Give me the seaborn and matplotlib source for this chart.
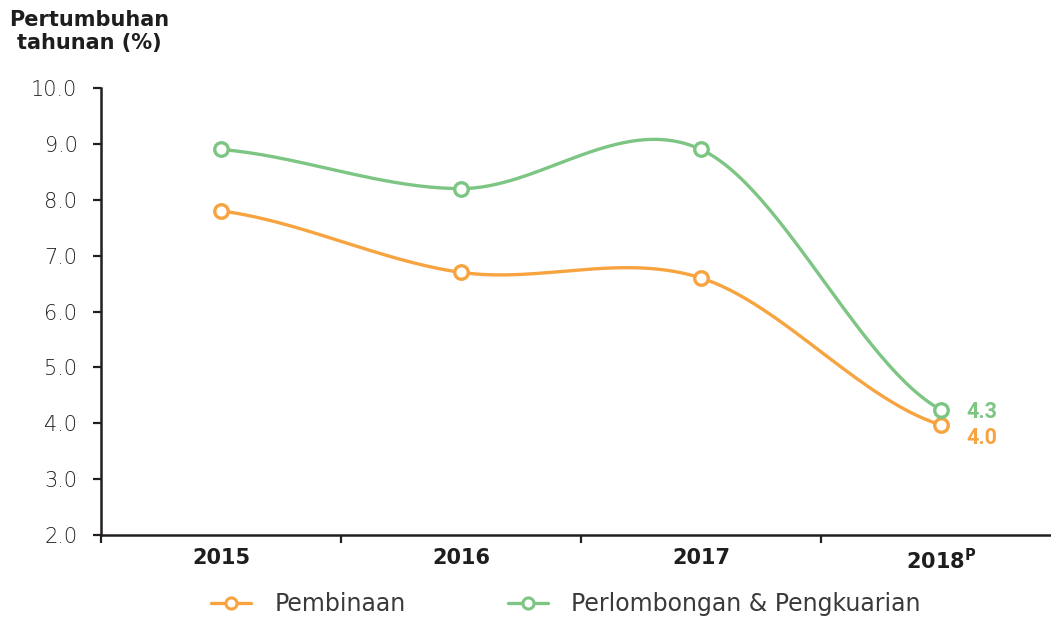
import numpy as np
import pandas as pd
import seaborn as sns
import matplotlib.pyplot as plt
from matplotlib.lines import Line2D

# data
tahun = ['2015', '2016', '2017', '2018']
pembinaan = [7.8, 6.7, 6.6, 3.97]
perlombongan = [8.9, 8.2, 8.9, 4.24]
label_akhir = ['4.0', '4.3']

siri = ['Pembinaan', 'Perlombongan & Pengkuarian']
warna = {'Pembinaan': '#F7A440', 'Perlombongan & Pengkuarian': '#7DC583'}

df = pd.DataFrame({
    'x': list(range(len(tahun))) * 2,
    'nilai': pembinaan + perlombongan,
    'siri': [siri[0]] * len(tahun) + [siri[1]] * len(tahun),
})


def catmull_rom(y, n=60):
    # smoothed line like the original chart (cardinal spline)
    y = np.asarray(y, dtype=float)
    m = np.zeros_like(y)
    m[1:-1] = (y[2:] - y[:-2]) / 2
    m[0] = (y[1] - y[0]) / 2
    m[-1] = (y[-1] - y[-2]) / 2
    xs, ys = [], []
    for i in range(len(y) - 1):
        t = np.linspace(0, 1, n)
        h00 = 2 * t**3 - 3 * t**2 + 1
        h10 = t**3 - 2 * t**2 + t
        h01 = -2 * t**3 + 3 * t**2
        h11 = t**3 - t**2
        xs.append(i + t)
        ys.append(h00 * y[i] + h10 * m[i] + h01 * y[i + 1] + h11 * m[i + 1])
    return np.concatenate(xs), np.concatenate(ys)


sns.set_style('white')
plt.rcParams['font.family'] = ['DejaVu Sans']
plt.rcParams['mathtext.fontset'] = 'custom'
plt.rcParams['mathtext.bf'] = 'DejaVu Sans:bold'
plt.rcParams['mathtext.rm'] = 'DejaVu Sans:bold'

fig = plt.figure(figsize=(10.51, 6.17), dpi=100)
ax = fig.add_axes([101 / 1051, 1 - 535 / 617, 960 / 1051, 447 / 617])

for s in siri:
    sub = df[df['siri'] == s]
    xs, ys = catmull_rom(sub['nilai'].values)
    sns.lineplot(x=xs, y=ys, ax=ax, color=warna[s], linewidth=2.4, zorder=2)
    sns.scatterplot(data=sub, x='x', y='nilai', ax=ax, s=95, color='white',
                    edgecolor=warna[s], linewidth=2.4, zorder=3)

# end labels
ax.text(3 + 0.105, perlombongan[-1] - 0.04, label_akhir[1], color=warna[siri[1]],
        fontsize=15.5, fontweight='bold', family='Roboto', va='center', ha='left')
ax.text(3 + 0.105, pembinaan[-1] - 0.24, label_akhir[0], color=warna[siri[0]],
        fontsize=15.5, fontweight='bold', family='Roboto', va='center', ha='left')

ax.set_xlim(-0.5, 3.5)
ax.set_ylim(2, 10)
ax.set_yticks(np.arange(2, 10.1, 1))
ax.set_yticklabels([f'{v:.1f}' for v in np.arange(2, 10.1, 1)],
                   fontsize=15, color='#222222', fontweight='light')
ax.set_xticks(range(len(tahun)))
ax.set_xticklabels(tahun[:-1] + [tahun[-1] + r'$^{\mathbf{P}}$'],
                   fontsize=15, fontweight='bold', color='#1e1e1e')
ax.set_xticks([-0.5, 0.5, 1.5, 2.5, 3.5], minor=True)
ax.tick_params(axis='x', which='major', bottom=True, length=0, pad=9)
ax.tick_params(axis='x', which='minor', bottom=True, length=6, width=1.6,
               color='#231f20', direction='out')
ax.tick_params(axis='y', left=True, length=6, width=1.6, color='#231f20',
               direction='out', pad=11)
ax.set_xlabel('')
ax.set_ylabel('')

for sp in ['top', 'right']:
    ax.spines[sp].set_visible(False)
for sp in ['left', 'bottom']:
    ax.spines[sp].set_color('#231f20')
    ax.spines[sp].set_linewidth(1.8)

fig.text(89 / 1051, 1 - 10 / 617, 'Pertumbuhan\ntahunan (%)', ha='center', va='top',
         fontsize=15, fontweight='bold', color='#1e1e1e', linespacing=1.2)

handles = [Line2D([0], [0], color=warna[s], linewidth=2.4, marker='o', markersize=8,
                  markerfacecolor='white', markeredgewidth=2.2) for s in siri]
leg = fig.legend(handles, siri, loc='center', bbox_to_anchor=(566 / 1051, 1 - 604 / 617),
                 ncol=2, frameon=False, fontsize=17, handlelength=1.7,
                 columnspacing=4.3, handletextpad=1.0)
for t in leg.get_texts():
    t.set_color('#3a3a3a')

fig.savefig('out.png', dpi=100)
